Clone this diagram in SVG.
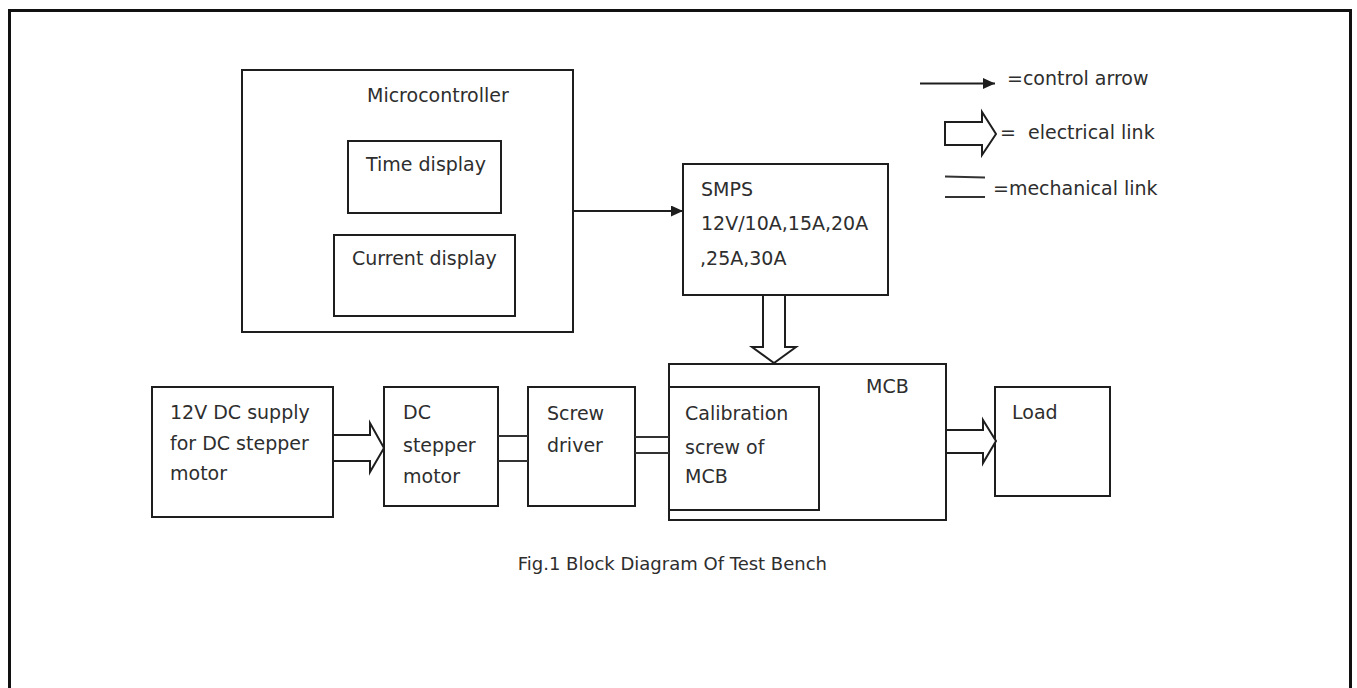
<svg xmlns="http://www.w3.org/2000/svg" width="1357" height="688" viewBox="0 0 1357 688">
<defs>
<style>
.box{fill:#fff;stroke:#1e1e1e;stroke-width:2}
.t{font-family:"DejaVu Sans",Verdana,sans-serif;font-size:19px;fill:#2e2e2e}
.cap{font-size:18px}
.ln{stroke:#1e1e1e;stroke-width:2;fill:none}
.mech{stroke:#333;stroke-width:2;fill:none}
.elec{fill:#fff;stroke:#1e1e1e;stroke-width:2;stroke-linejoin:miter}
</style>
<marker id="ah" markerWidth="12" markerHeight="11" refX="12" refY="5.5" orient="auto" markerUnits="userSpaceOnUse">
<path d="M0,0 L12,5.5 L0,11 Z" fill="#1e1e1e"/>
</marker>
</defs>
<rect width="1357" height="688" fill="#fff"/>
<path d="M9.5,692 V10.5 H1350.5 V692" fill="none" stroke="#111" stroke-width="3"/>

<g id="microcontroller">
<rect class="box" x="242" y="70" width="331" height="262"/>
<text class="t" x="367" y="102">Microcontroller</text>
</g>
<g id="time-display">
<rect class="box" x="348" y="141" width="153" height="72"/>
<text class="t" x="366" y="171">Time display</text>
</g>
<g id="current-display">
<rect class="box" x="334" y="235" width="181" height="81"/>
<text class="t" x="352" y="265">Current display</text>
</g>
<g id="smps">
<rect class="box" x="683" y="164" width="205" height="131"/>
<text class="t" x="701" y="196">SMPS</text>
<text class="t" x="701" y="230">12V/10A,15A,20A</text>
<text class="t" x="700" y="265">,25A,30A</text>
</g>
<g id="supply">
<rect class="box" x="152" y="387" width="181" height="130"/>
<text class="t" x="170" y="419">12V DC supply</text>
<text class="t" x="170" y="450">for DC stepper</text>
<text class="t" x="170" y="480">motor</text>
</g>
<g id="stepper">
<rect class="box" x="384" y="387" width="114" height="119"/>
<text class="t" x="403" y="419">DC</text>
<text class="t" x="403" y="452">stepper</text>
<text class="t" x="403" y="483">motor</text>
</g>
<g id="screwdriver">
<rect class="box" x="528" y="387" width="107" height="119"/>
<text class="t" x="547" y="420">Screw</text>
<text class="t" x="547" y="452">driver</text>
</g>
<g id="mcb">
<rect class="box" x="669" y="364" width="277" height="156"/>
<text class="t" x="866" y="393">MCB</text>
</g>
<g id="calibration">
<rect class="box" x="669" y="387" width="150" height="123"/>
<text class="t" x="685" y="420">Calibration</text>
<text class="t" x="685" y="454">screw of</text>
<text class="t" x="685" y="483">MCB</text>
</g>
<g id="load">
<rect class="box" x="995" y="387" width="115" height="109"/>
<text class="t" x="1012" y="419">Load</text>
</g>

<g id="connectors">
<line class="ln" x1="573" y1="211" x2="683" y2="211" marker-end="url(#ah)"/>
<polygon class="elec" points="763,295 785,295 785,347 796,347 774,363 752,347 763,347"/>
<polygon class="elec" points="333,435 370,435 370,423 384,448 370,472 370,461 333,461"/>
<polygon class="elec" points="946,430 983,430 983,420 996,441 983,463 983,453 946,453"/>
<line class="mech" x1="498" y1="436" x2="528" y2="436"/>
<line class="mech" x1="498" y1="461" x2="528" y2="461"/>
<line class="mech" x1="635" y1="437" x2="669" y2="437"/>
<line class="mech" x1="635" y1="453" x2="669" y2="453"/>
</g>

<g id="legend">
<line class="ln" x1="920" y1="83.5" x2="995" y2="83.5" marker-end="url(#ah)"/>
<text class="t" x="1007" y="85">=control arrow</text>
<polygon class="elec" points="945,122 982,122 982,112 996,134 982,155 982,145 945,145"/>
<text class="t" x="1000" y="139" xml:space="preserve">=  electrical link</text>
<line class="mech" x1="945" y1="176.5" x2="985" y2="177.5"/>
<line class="mech" x1="945" y1="197" x2="985" y2="197"/>
<text class="t" x="993" y="195">=mechanical link</text>
</g>

<text class="t cap" x="827" y="570" text-anchor="end">Fig.1 Block Diagram Of Test Bench</text>
</svg>
